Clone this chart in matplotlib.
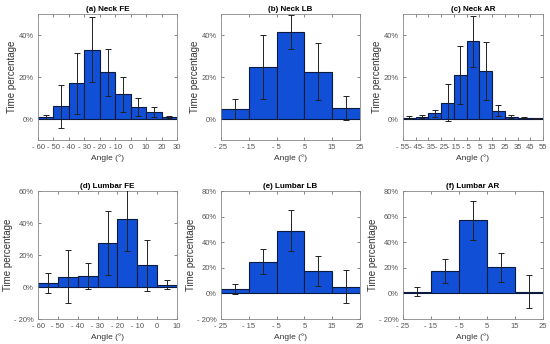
import numpy as np
import matplotlib.pyplot as plt
from matplotlib.ticker import FuncFormatter

plt.rcParams['font.family'] = ['Liberation Sans', 'DejaVu Sans']

# bin edges (degrees)
fe_neck_edges = [-60, -50, -40, -30, -20, -10, 0, 10, 20, 30]
lb_edges = [-25, -15, -5, 5, 15, 25]
ar_neck_edges = [-55, -45, -35, -25, -15, -5, 5, 15, 25, 35, 45, 55]
fe_lumbar_edges = [-60, -50, -40, -30, -20, -10, 0, 10]

# time percentage (mean) and std per bin
neck_fe = [0.8, 6.0, 17.0, 33.0, 22.2, 11.7, 5.7, 3.2, 0.9]
neck_fe_sd = [1.0, 10.1, 14.5, 15.5, 11.2, 8.2, 4.4, 2.4, 0.4]
neck_lb = [4.9, 24.8, 41.4, 22.5, 5.2]
neck_lb_sd = [4.7, 15.3, 8.1, 13.5, 5.7]
neck_ar = [0.7, 1.0, 2.7, 7.8, 21.0, 37.0, 23.0, 4.0, 1.1, 0.7, 0.3]
neck_ar_sd = [0.5, 0.7, 1.6, 8.7, 14.0, 12.0, 13.8, 2.6, 0.8, 0.4, 0.1]
lumbar_fe = [2.4, 6.5, 7.1, 27.3, 42.2, 13.5, 1.5]
lumbar_fe_sd = [6.2, 16.8, 8.2, 20.0, 19.6, 16.0, 2.8]
lumbar_lb = [3.5, 24.8, 48.8, 17.6, 5.3]
lumbar_lb_sd = [4.0, 9.6, 16.0, 11.5, 13.0]
lumbar_ar = [1.3, 17.7, 57.1, 20.3, 1.3]
lumbar_ar_sd = [3.6, 9.4, 15.3, 11.2, 13.0]

panels = [
    ('(a) Neck FE', fe_neck_edges, neck_fe, neck_fe_sd, (-10, 50), [0, 20, 40]),
    ('(b) Neck LB', lb_edges, neck_lb, neck_lb_sd, (-10, 50), [0, 20, 40]),
    ('(c) Neck AR', ar_neck_edges, neck_ar, neck_ar_sd, (-10, 50), [0, 20, 40]),
    ('(d) Lumbar FE', fe_lumbar_edges, lumbar_fe, lumbar_fe_sd, (-20, 60), [-20, 0, 20, 40, 60]),
    ('(e) Lumbar LB', lb_edges, lumbar_lb, lumbar_lb_sd, (-20, 80), [-20, 0, 20, 40, 60, 80]),
    ('(f) Lumbar AR', lb_edges, lumbar_ar, lumbar_ar_sd, (-20, 80), [-20, 0, 20, 40, 60, 80]),
]

W, H = 550, 344
boxes = [(38, 14, 177, 140), (221, 14, 360, 140), (403, 14, 543, 140),
         (38, 191, 177, 319), (221, 191, 360, 319), (403, 191, 543, 319)]

fig = plt.figure(figsize=(5.5, 3.44), dpi=100)


def minus_fmt(v):
    v = int(round(v))
    return '- %d' % abs(v) if v < 0 else '%d' % v


for (title, edges, vals, sd, ylim, yt), (l, t, r, b) in zip(panels, boxes):
    ax = fig.add_axes([l / W, 1 - b / H, (r - l) / W, (b - t) / H])
    edges = np.array(edges)
    centers = (edges[:-1] + edges[1:]) / 2
    width = edges[1] - edges[0]
    ax.bar(centers, vals, width=width, color='#1150D6', edgecolor='#0c1a40',
           linewidth=0.8, zorder=2)
    ax.errorbar(centers, vals, yerr=sd, fmt='none', ecolor='#222222',
                elinewidth=0.7, capsize=2, capthick=0.7, zorder=3)
    ax.set_xlim(edges[0], edges[-1])
    ax.set_ylim(*ylim)
    ax.set_xticks(edges)
    ax.set_xticklabels([minus_fmt(e) for e in edges])
    ax.set_yticks(yt)
    ax.yaxis.set_major_formatter(FuncFormatter(
        lambda v, p: ('- %d%%' % abs(v)) if v < 0 else '%d%%' % v))
    ax.tick_params(direction='in', length=2, width=0.5, colors='#555555',
                   labelsize=5.5, top=True, right=True, pad=3)
    for s in ax.spines.values():
        s.set_color('#888888')
        s.set_linewidth(0.6)
    ax.set_title(title, fontsize=5.8, fontweight='bold', pad=2)
    ax.set_xlabel('Angle (°)', fontsize=6.0, color='#333333', labelpad=2)
    ax.set_ylabel('Time percentage', fontsize=7.0, color='#333333', labelpad=1)

fig.savefig('out.png', dpi=100)
